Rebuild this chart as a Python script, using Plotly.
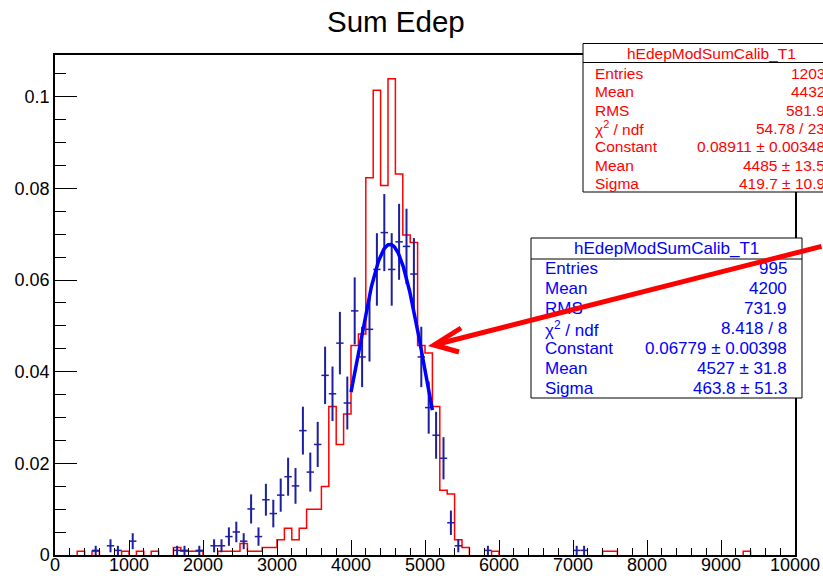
import numpy as np
import plotly.graph_objects as go

# ---------------- data ----------------
bin_width = 100
x_lo, x_hi = 0, 10000

# red histogram: bin index -> counts (normalised by entries)
red_bins = [3, 5, 9, 11, 13, 16, 17, 18, 19, 22, 23, 24, 25, 26, 27, 28, 29, 30, 31, 32,
            33, 34, 35, 36, 37, 38, 39, 40, 41, 42, 43, 44, 45, 46, 47, 48, 49, 50, 51, 52,
            53, 54, 55, 59, 74, 75, 93]
red_counts = [1, 1, 1, 1, 1, 2, 1, 1, 1, 1, 1, 1, 3, 1, 1, 2, 2, 4, 7, 4,
              7, 12, 12, 18, 39, 29, 37, 55, 58, 99, 122, 97, 125, 100, 84, 82, 55, 53, 39, 17,
              16, 4, 2, 1, 1, 1, 1]
red_entries = 1203

# blue histogram with error bars
blue_bins = [5, 7, 8, 10, 16, 17, 19, 21, 22, 23, 24, 25, 26, 27, 28, 29, 30, 31, 32, 33,
             34, 35, 36, 37, 38, 39, 40, 41, 42, 43, 44, 45, 46, 47, 48, 49, 50, 51, 52, 53,
             54, 58, 70, 71]
blue_counts = [1, 2, 1, 3, 1, 1, 1, 2, 2, 4, 5, 3, 10, 4, 12, 9, 13, 17, 15, 27,
               18, 24, 39, 35, 46, 33, 53, 43, 49, 62, 70, 62, 68, 67, 61, 43, 32, 26, 21, 7,
               2, 1, 1, 1]
blue_entries = 995

# gaussian fit of the blue histogram (from its stat box)
fit_const, fit_mean, fit_sigma = 0.06779, 4527.0, 463.8
fit_lo, fit_hi = 4000, 5100

red_stats = [("Entries", "1203"), ("Mean", "4432"), ("RMS", "581.9"),
             ("χ<sup>2</sup> / ndf", "54.78 / 23"), ("Constant", "0.08911 ± 0.00348"),
             ("Mean", "4485 ± 13.5"), ("Sigma", "419.7 ± 10.9")]
blue_stats = [("Entries", "995"), ("Mean", "4200"), ("RMS", "731.9"),
              ("χ<sup>2</sup> / ndf", "8.418 / 8"), ("Constant", "0.06779 ± 0.00398"),
              ("Mean", "4527 ± 31.8"), ("Sigma", "463.8 ± 51.3")]
hist_name = "hEdepModSumCalib_T1"
title = "Sum Edep"

# ---------------- figure ----------------
W, H = 823, 576
L, R, T, B = 55, 795, 55, 555
FONT = "Liberation Sans, Arial, Helvetica, sans-serif"
RED = "rgb(255,0,0)"
BLUE = "rgb(0,0,255)"
NAVY = "rgb(30,30,160)"

nb = (x_hi - x_lo) // bin_width
edges = np.arange(nb + 1) * bin_width + x_lo
red_vals = np.zeros(nb)
red_vals[red_bins] = np.array(red_counts) / red_entries

# outline of the red histogram (zero bins left out so they don't paint the axis)
step_x, step_y = [], []
for i in range(nb):
    v = red_vals[i]
    if v <= 0:
        continue
    if i == 0 or red_vals[i - 1] <= 0:
        step_x.append(edges[i]); step_y.append(0.0)
    step_x += [edges[i], edges[i + 1]]
    step_y += [v, v]
    if i == nb - 1 or red_vals[i + 1] <= 0:
        step_x += [edges[i + 1], None]
        step_y += [0.0, None]

bc = np.array(blue_counts, dtype=float)
blue_x = np.array(blue_bins) * bin_width + bin_width / 2
blue_y = bc / blue_entries
blue_e = np.sqrt(bc) / blue_entries

fx = np.linspace(fit_lo, fit_hi, 150)
fy = fit_const * np.exp(-0.5 * ((fx - fit_mean) / fit_sigma) ** 2)

ymax = 1.05 * red_vals.max()

fig = go.Figure()
fig.add_trace(go.Scatter(x=step_x, y=step_y, mode="lines", connectgaps=False,
                         line=dict(color=RED, width=1.5), hoverinfo="skip"))
fig.add_trace(go.Scatter(x=blue_x, y=blue_y, mode="markers",
                         marker=dict(size=1, color=NAVY, opacity=0),
                         error_y=dict(type="data", array=blue_e, width=0, thickness=2, color=NAVY),
                         error_x=dict(type="constant", value=bin_width / 2, width=0, thickness=1.5, color=NAVY)))
fig.add_trace(go.Scatter(x=fx, y=fy, mode="lines", line=dict(color=BLUE, width=3.5)))


def P(px, py):
    return (px - L) / (R - L), (B - py) / (B - T)


shapes = []
annots = []


def stat_box(x0, y0, x1, y1, sep, color, fsize, title_y, line_y0, dy, tx, vx, rows):
    a, b = P(x0, y0)
    c, d = P(x1, y1)
    shapes.append(dict(type="rect", xref="paper", yref="paper", x0=a, y0=d, x1=c, y1=b,
                       fillcolor="white", line=dict(color="black", width=1), layer="above"))
    _, s = P(0, sep)
    shapes.append(dict(type="line", xref="paper", yref="paper", x0=a, x1=c, y0=s, y1=s,
                       line=dict(color="black", width=1), layer="above"))
    cx, cy = P((x0 + x1) / 2, title_y)
    annots.append(dict(x=cx, y=cy, xref="paper", yref="paper", text=hist_name, showarrow=False,
                       xanchor="center", yanchor="middle", font=dict(family=FONT, size=fsize, color=color)))
    for i, (k, v) in enumerate(rows):
        lx, ly = P(tx, line_y0 + i * dy)
        rx, _ = P(vx, 0)
        annots.append(dict(x=lx, y=ly, xref="paper", yref="paper", text=k, showarrow=False,
                           xanchor="left", yanchor="middle", font=dict(family=FONT, size=fsize, color=color)))
        annots.append(dict(x=rx, y=ly, xref="paper", yref="paper", text=v, showarrow=False,
                           xanchor="right", yanchor="middle", font=dict(family=FONT, size=fsize, color=color)))


stat_box(583, 43.5, 839, 192, 62.5, RED, 15.5, 53, 73.3, 18.35, 593, 827, red_stats)
stat_box(531, 238, 802, 398, 259, BLUE, 17, 248, 268.3, 20.1, 543, 789, blue_stats)

# title
tx_, ty_ = P(396, 22)
annots.append(dict(x=tx_, y=ty_, xref="paper", yref="paper", text=title, showarrow=False,
                   xanchor="center", yanchor="middle", font=dict(family=FONT, size=29.5, color="black")))

# arrow (shaft as annotation so it covers the stat text, head as a path)
tipx, tipy = 434, 345
hx, hy = P(tipx, tipy)
annots.append(dict(x=hx, y=hy, xref="paper", yref="paper", text=" ", showarrow=True,
                   ax=410, ay=-99, arrowhead=0, arrowwidth=5, arrowcolor=RED, standoff=0,
                   font=dict(size=1)))
p1 = P(461, 328)
p2 = P(tipx, tipy)
p3 = P(459, 352)
shapes.append(dict(type="path", xref="paper", yref="paper",
                   path=f"M {p1[0]},{p1[1]} L {p2[0]},{p2[1]} L {p3[0]},{p3[1]}",
                   line=dict(color=RED, width=5), layer="above"))

axis_common = dict(showline=True, linecolor="black", linewidth=1.5, mirror=True,
                   ticks="inside", tickcolor="black", tickwidth=1, showgrid=False,
                   zeroline=False, automargin=False,
                   tickfont=dict(family=FONT, size=18, color="black"))

fig.update_layout(
    width=W, height=H, showlegend=False,
    margin=dict(l=L, r=W - R, t=T, b=H - B, pad=0, autoexpand=False),
    paper_bgcolor="white", plot_bgcolor="white",
    xaxis=dict(range=[x_lo, x_hi], dtick=1000, tick0=0, tickformat="d", ticklen=15,
               ticklabelstandoff=-7,
               minor=dict(ticks="inside", ticklen=7.5, dtick=200, tickcolor="black", tickwidth=1, showgrid=False),
               **axis_common),
    yaxis=dict(range=[0, ymax], dtick=0.02, tick0=0, ticklen=22,
               minor=dict(ticks="inside", ticklen=11, dtick=0.005, tickcolor="black", tickwidth=1, showgrid=False),
               **axis_common),
    shapes=shapes, annotations=annots,
)

fig.write_html("out.html")
